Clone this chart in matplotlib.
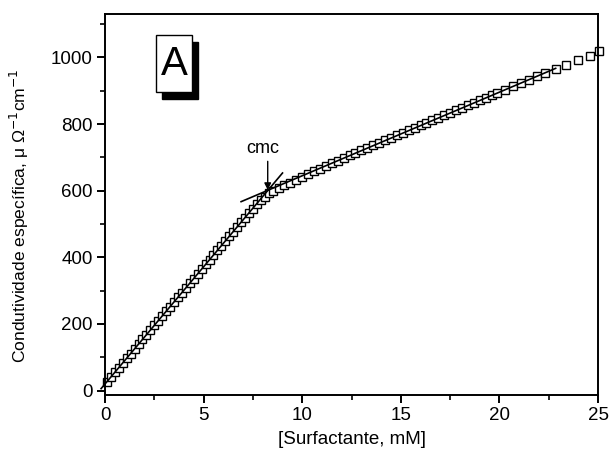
import matplotlib
matplotlib.use('Agg')
import matplotlib.pyplot as plt
from matplotlib.patches import Rectangle

plt.rcParams['font.family'] = ['Liberation Sans', 'DejaVu Sans']

# measured conductivity data
conc = [0.1, 0.3, 0.5, 0.7, 0.9, 1.1, 1.3, 1.5, 1.7, 1.9, 2.1, 2.3, 2.5, 2.7, 2.9,
        3.1, 3.3, 3.5, 3.7, 3.9, 4.1, 4.3, 4.5, 4.7, 4.9, 5.1, 5.3, 5.5, 5.7, 5.9,
        6.1, 6.3, 6.5, 6.7, 6.9, 7.1, 7.3, 7.5, 7.7, 7.9, 8.1, 8.3, 8.5, 8.8, 9.1,
        9.4, 9.7, 10.0, 10.3, 10.6, 10.9, 11.2, 11.5, 11.8, 12.1, 12.4, 12.7, 13.0,
        13.3, 13.6, 13.9, 14.2, 14.5, 14.8, 15.1, 15.4, 15.7, 16.0, 16.3, 16.6, 16.9,
        17.2, 17.5, 17.8, 18.1, 18.4, 18.7, 19.0, 19.3, 19.6, 19.9, 20.3, 20.7, 21.1,
        21.5, 21.9, 22.3, 22.85, 23.4, 24.0, 24.6, 25.05]
kappa = [27, 41, 55, 69, 83, 97, 111, 125, 140, 154, 168, 182, 196, 210, 224,
         238, 252, 266, 280, 294, 308, 322, 336, 350, 364, 379, 393, 407, 421, 435,
         449, 463, 477, 491, 505, 519, 533, 546, 559, 571, 582, 592, 600, 608, 616,
         624, 632, 641, 650, 658, 666, 674, 682, 690, 698, 706, 713, 721,
         728, 736, 743, 751, 758, 766, 773, 781, 788, 796, 803, 811, 818,
         826, 833, 841, 848, 856, 863, 871, 878, 886, 893, 903, 913, 923,
         933, 943, 953, 965, 978, 992, 1005, 1018]

# linear fits below and above the cmc
fit1_x = [-0.2, 9.0]
fit1_y = [6, 653]
fit2_x = [6.9, 22.85]
fit2_y = [567, 967]
cmc_x = 8.25
cmc_y = 602

fig = plt.figure(figsize=(6.12, 4.61), dpi=100)
ax = fig.add_axes([0.1716, 0.1432, 0.8056, 0.8264])

ax.plot(fit1_x, fit1_y, color='black', lw=1.2, zorder=3, clip_on=False)
ax.plot(fit2_x, fit2_y, color='black', lw=1.2, zorder=3)
ax.plot(conc, kappa, 's', ms=5.6, mfc='white', mec='black', mew=1.0, zorder=2, clip_on=False)

# cmc marker: vertical arrow + label
ax.annotate('', xy=(cmc_x, cmc_y), xytext=(cmc_x, 688),
            arrowprops=dict(arrowstyle='-|>', color='black', lw=1.0,
                            mutation_scale=10, shrinkA=0, shrinkB=0))
ax.text(cmc_x - 0.25, 700, 'cmc', ha='center', va='bottom', fontsize=13)

# boxed panel label with shadow
ax.add_patch(Rectangle((0.1156, 0.777), 0.0735, 0.15, transform=ax.transAxes,
                       facecolor='black', edgecolor='black', zorder=4, clip_on=False))
ax.add_patch(Rectangle((0.1034, 0.795), 0.0735, 0.15, transform=ax.transAxes,
                       facecolor='white', edgecolor='black', lw=1.0, zorder=5, clip_on=False))
ax.text(0.1401, 0.868, 'A', transform=ax.transAxes, ha='center', va='center',
        fontsize=29, zorder=6)

ax.set_xlim(0, 25)
ax.set_ylim(-13, 1130)
ax.set_xticks([0, 5, 10, 15, 20, 25])
ax.set_xticks([2.5, 7.5, 12.5, 17.5, 22.5], minor=True)
ax.set_yticks([0, 200, 400, 600, 800, 1000])
ax.set_yticks([100, 300, 500, 700, 900, 1100], minor=True)
ax.tick_params(which='major', direction='out', length=6, width=1.4, labelsize=13.5, pad=3)
ax.tick_params(which='minor', direction='out', length=3.5, width=1.2)
ax.tick_params(top=False, right=False)
for s in ax.spines.values():
    s.set_linewidth(1.4)

ax.set_xlabel('[Surfactante, mM]', fontsize=13.5, labelpad=5)
ax.set_ylabel('Condutividade específica, μ Ω$^{-1}$cm$^{-1}$', fontsize=12.6)
ax.yaxis.set_label_coords(-0.15, 0.47)

fig.savefig('out.png', dpi=100)
